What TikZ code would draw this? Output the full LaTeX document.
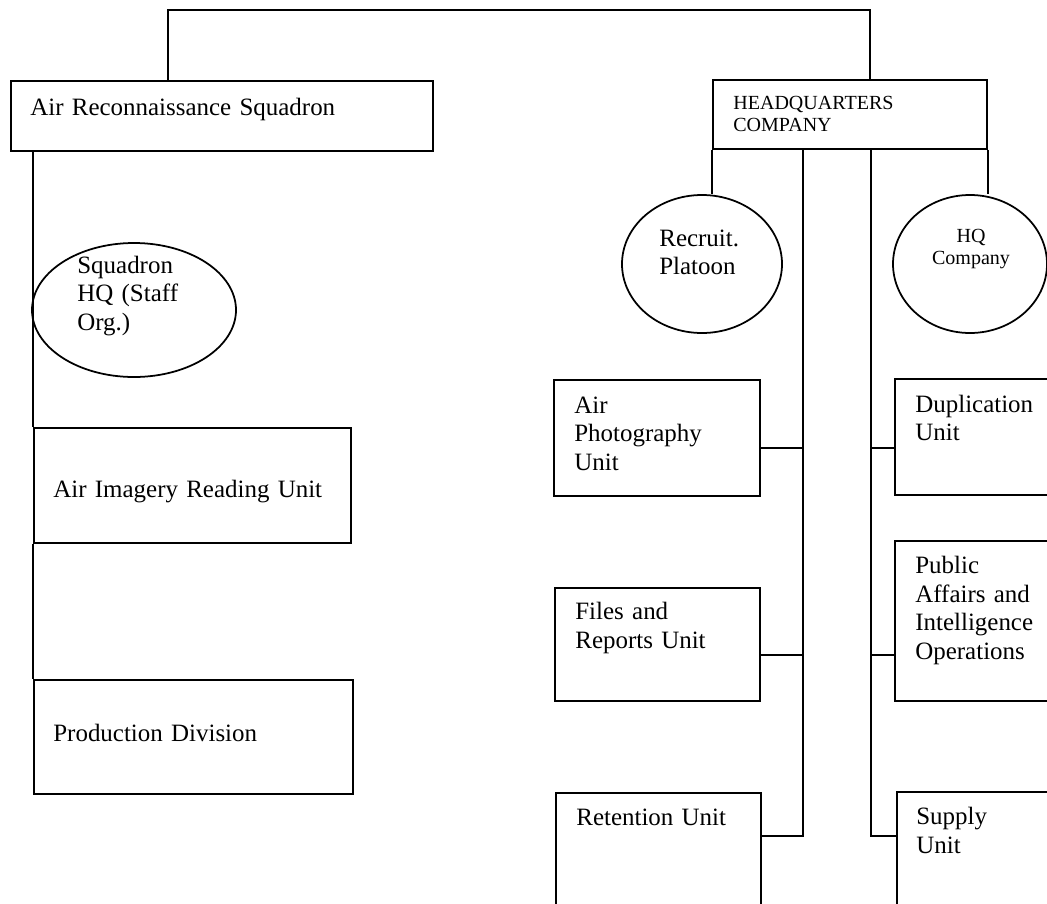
\documentclass[tikz,border=0pt]{standalone}
\usepackage{fontspec}
\setmainfont{Liberation Serif}
\usetikzlibrary{shapes.geometric}
\begin{document}
\begin{tikzpicture}[x=.02cm,y=-.02cm,
                    line/.style={line width=1pt},
                    box/.style 2 args={draw,line width=1pt,rectangle,anchor=north west,
                      inner sep=0pt,minimum width=#1*.02cm,minimum height=#2*.02cm},
                    oval/.style 2 args={draw,line width=1pt,ellipse,
                      inner sep=0pt,minimum width=#1*.02cm,minimum height=#2*.02cm},
                    lbl/.style={anchor=base west,inner sep=0pt,text width=10cm,align=left,
                      font=\fontsize{14.2}{16.5}\selectfont},
                    small/.style={font=\fontsize{11.4}{13}\selectfont}]
 \useasboundingbox (0,0) rectangle (1047,903);
 \clip (0,0) rectangle (1047,903);
 % squadron side
 \node[box={422}{70}] (ars) at (10,80) {};
 \node[oval={204}{134}] (sqhq) at (134,310) {};
 \node[box={317}{115}] (aiu) at (33,427) {};
 \node[box={319}{114}] (prod) at (33,679) {};
 % company side
 \node[box={274}{69}] (hq) at (712,79) {};
 \node[oval={160}{138}] (rec) at (702,264) {};
 \node[oval={154}{138}] (hqc) at (970,264) {};
 \node[box={206}{116}] (ap) at (553,379) {};
 \node[box={205}{113}] (fr) at (554,587) {};
 \node[box={205}{170}] (ret) at (555,792) {};
 \node[box={206}{116}] (dup) at (894,378) {};
 \node[box={206}{160}] (pub) at (894,540) {};
 \node[box={204}{170}] (sup) at (896,791) {};
 % texts
 \node[lbl] (t-ars) at (30,115) {Air Reconnaissance Squadron};
 \node[lbl] (t-sqhq) at (77,273) {Squadron\\HQ (Staff\\Org.)};
 \node[lbl] (t-aiu) at (53,497) {Air Imagery Reading Unit};
 \node[lbl] (t-prod) at (53,741) {Production Division};
 \node[lbl,small] (t-hq) at (733,109) {HEADQUARTERS\\COMPANY};
 \node[lbl] (t-rec) at (659,246) {Recruit.\\Platoon};
 \node[lbl,small,anchor=base,align=center,text width=3cm] (t-hqc) at (971,242) {HQ\\Company};
 \node[lbl] (t-ap) at (574,413) {Air\\Photography\\Unit};
 \node[lbl] (t-fr) at (575,619) {Files and\\Reports Unit};
 \node[lbl] (t-ret) at (576,825) {Retention Unit};
 \node[lbl] (t-dup) at (915,412) {Duplication\\Unit};
 \node[lbl] (t-pub) at (915,573) {Public\\Affairs and\\Intelligence\\Operations};
 \node[lbl] (t-sup) at (916,824) {Supply\\Unit};
 % connectors
 \coordinate (topl) at (168,10); \coordinate (topr) at (870,10);
 \coordinate (spl) at (803,0); \coordinate (spr) at (871,0);
 \coordinate (r1) at (0,448); \coordinate (r2) at (0,655); \coordinate (r3) at (0,836);
 \draw[line] (ars.north -| topl) -- (topl) -- (topr) -- (hq.north -| topr);
 \draw[line] (ars.south -| aiu.west) -- (aiu.north west);
 \draw[line] (aiu.south west) -- (prod.north west);
 \draw[line] (hq.south west) -- (hq.south west |- rec.north);
 \draw[line] (hq.south east) -- (hq.south east |- hqc.north);
 \draw[line] (hq.south -| spl) -- (spl |- r3) -- (ret.east |- r3);
 \draw[line] (ap.east |- r1) -- (spl |- r1);
 \draw[line] (fr.east |- r2) -- (spl |- r2);
 \draw[line] (hq.south -| spr) -- (spr |- r3) -- (sup.west |- r3);
 \draw[line] (dup.west |- r1) -- (spr |- r1);
 \draw[line] (pub.west |- r2) -- (spr |- r2);
\end{tikzpicture}
\end{document}
